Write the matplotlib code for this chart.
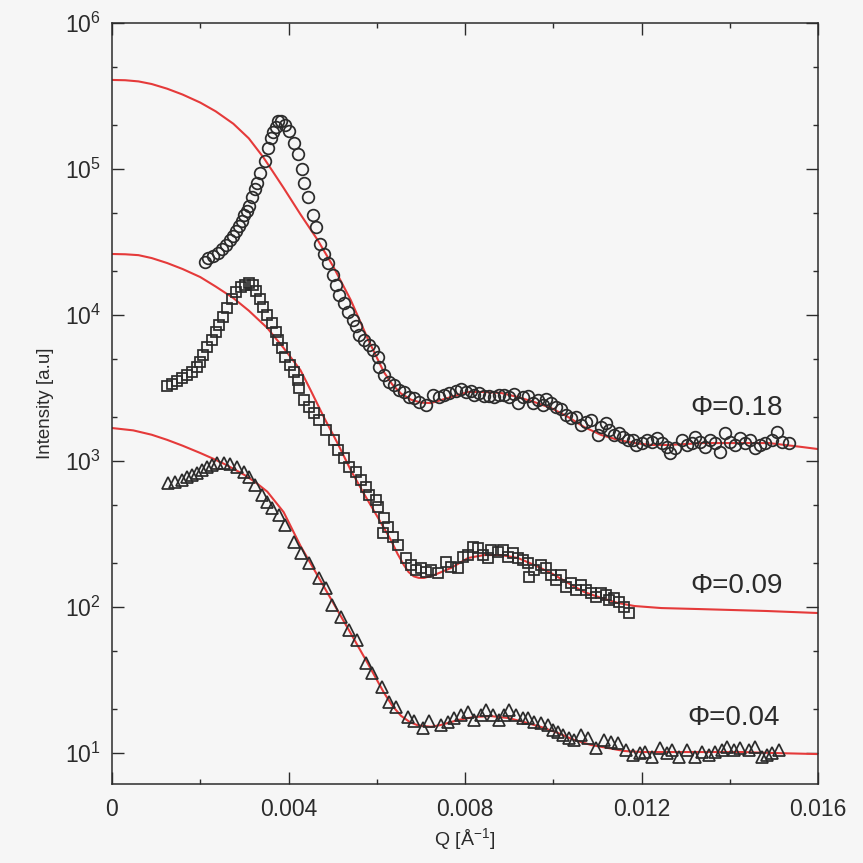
import numpy as np
import matplotlib
matplotlib.use("Agg")
import matplotlib.pyplot as plt
from matplotlib.ticker import LogLocator, MultipleLocator, FixedLocator, NullFormatter

plt.rcParams['font.family'] = ['Liberation Sans', 'DejaVu Sans']
plt.rcParams['mathtext.fontset'] = 'custom'
plt.rcParams['mathtext.rm'] = 'Liberation Sans'
plt.rcParams['mathtext.it'] = 'Liberation Sans'
plt.rcParams['mathtext.default'] = 'regular'

# ---- data: q in units of 1e-3 A^-1, intensity as log10 ----
c_q = [2.114,2.182,2.295,2.409,2.500,2.591,2.682,2.750,2.818,2.886,
       2.955,3.000,3.068,3.114,3.182,3.250,3.295,3.364,3.477,3.545,
       3.614,3.659,3.727,3.773,3.841,3.932,4.000,4.114,4.205,4.295,
       4.341,4.432,4.545,4.614,4.705,4.795,4.886,5.000,5.068,5.136,
       5.250,5.341,5.455,5.523,5.591,5.705,5.818,5.909,6.023,6.045,
       6.159,6.273,6.386,6.500,6.614,6.727,6.841,6.955,7.114,7.273,
       7.409,7.523,7.636,7.795,7.909,8.023,8.136,8.205,8.318,8.432,
       8.545,8.659,8.773,8.886,9.000,9.114,9.205,9.318,9.432,9.545,
       9.659,9.773,9.841,9.955,10.068,10.182,10.295,10.409,10.523,10.636,
       10.750,10.864,11.023,11.091,11.205,11.273,11.386,11.500,11.591,11.705,
       11.818,11.886,12.000,12.114,12.227,12.341,12.455,12.568,12.636,12.750,
       12.909,13.023,13.136,13.205,13.318,13.432,13.545,13.659,13.773,13.886,
       14.000,14.114,14.227,14.341,14.455,14.568,14.682,14.795,14.955,15.068,
       15.182,15.341]
c_logI = [4.363,4.390,4.404,4.425,4.452,4.479,4.514,4.541,4.575,4.610,
          4.644,4.685,4.712,4.747,4.808,4.863,4.904,4.973,5.055,5.144,
          5.212,5.253,5.288,5.329,5.329,5.301,5.260,5.178,5.103,5.000,
          4.904,4.808,4.685,4.603,4.486,4.418,4.356,4.274,4.205,4.137,
          4.082,4.021,3.966,3.925,3.863,3.829,3.795,3.760,3.712,3.644,
          3.589,3.541,3.521,3.486,3.473,3.438,3.432,3.404,3.384,3.452,
          3.438,3.452,3.466,3.479,3.493,3.473,3.479,3.452,3.466,3.445,
          3.445,3.438,3.452,3.452,3.438,3.459,3.397,3.438,3.445,3.397,
          3.418,3.384,3.425,3.397,3.370,3.356,3.315,3.295,3.301,3.247,
          3.267,3.281,3.178,3.233,3.260,3.212,3.178,3.192,3.164,3.144,
          3.144,3.110,3.123,3.144,3.130,3.158,3.123,3.096,3.055,3.089,
          3.144,3.110,3.123,3.164,3.130,3.096,3.144,3.123,3.062,3.192,
          3.130,3.110,3.158,3.123,3.144,3.089,3.110,3.123,3.144,3.199,
          3.130,3.123]

s_q = [1.250,1.364,1.477,1.591,1.705,1.818,1.932,2.000,2.068,2.159,
       2.273,2.364,2.432,2.523,2.614,2.727,2.818,2.932,3.023,3.114,
       3.205,3.273,3.364,3.432,3.523,3.636,3.727,3.773,3.864,3.932,
       4.023,4.114,4.205,4.227,4.341,4.455,4.568,4.682,4.841,5.023,
       5.114,5.250,5.364,5.523,5.636,5.750,5.818,5.977,6.023,6.159,
       6.250,6.136,6.364,6.477,6.659,6.773,6.886,7.000,7.114,7.227,
       7.386,7.568,7.682,7.841,7.955,8.068,8.182,8.295,8.409,8.523,
       8.591,8.750,8.864,8.977,9.091,9.205,9.318,9.432,9.455,9.568,
       9.727,9.841,9.955,10.068,10.182,10.295,10.409,10.523,10.636,10.750,
       10.864,10.977,11.091,11.205,11.273,11.386,11.500,11.614,11.727]
s_logI = [3.514,3.527,3.548,3.568,3.589,3.610,3.644,3.678,3.726,3.781,
          3.829,3.884,3.932,3.986,4.048,4.110,4.158,4.192,4.205,4.219,
          4.205,4.164,4.110,4.055,4.000,3.945,3.884,3.829,3.774,3.712,
          3.658,3.610,3.555,3.500,3.418,3.370,3.329,3.281,3.212,3.144,
          3.075,3.021,2.959,2.925,2.870,2.822,2.767,2.733,2.685,2.610,
          2.548,2.507,2.479,2.425,2.336,2.288,2.253,2.267,2.240,2.253,
          2.233,2.308,2.274,2.267,2.342,2.356,2.411,2.404,2.356,2.336,
          2.390,2.377,2.390,2.342,2.370,2.336,2.322,2.301,2.205,2.253,
          2.288,2.267,2.219,2.185,2.219,2.137,2.164,2.116,2.151,2.116,
          2.096,2.068,2.096,2.082,2.048,2.062,2.034,2.000,1.959]

t_q = [1.280,1.432,1.584,1.698,1.811,1.925,2.039,2.152,2.266,2.380,
       2.530,2.682,2.834,2.984,3.098,3.250,3.402,3.516,3.630,3.780,
       3.932,4.120,4.273,4.461,4.689,4.841,4.993,5.182,5.370,5.561,
       5.750,5.902,6.130,6.280,6.432,6.698,6.841,7.045,7.182,7.455,
       7.614,7.750,7.909,8.068,8.205,8.364,8.477,8.636,8.773,8.886,
       9.000,9.159,9.318,9.432,9.568,9.727,9.886,10.000,10.114,10.227,
       10.364,10.477,10.636,10.795,10.977,11.159,11.318,11.477,11.659,11.818,
       11.955,12.068,12.227,12.409,12.568,12.682,12.841,13.023,13.205,13.364,
       13.523,13.659,13.818,13.932,14.091,14.227,14.432,14.568,14.727,14.841,
       14.955,15.114]
t_logI = [2.847,2.858,2.870,2.888,2.904,2.916,2.938,2.957,2.973,2.984,
          2.984,2.979,2.961,2.927,2.892,2.836,2.767,2.721,2.676,2.630,
          2.562,2.447,2.368,2.299,2.197,2.128,2.014,1.934,1.842,1.774,
          1.614,1.546,1.454,1.351,1.317,1.249,1.219,1.171,1.219,1.192,
          1.212,1.240,1.260,1.281,1.226,1.260,1.295,1.260,1.226,1.260,
          1.295,1.260,1.240,1.240,1.212,1.205,1.192,1.158,1.144,1.123,
          1.103,1.089,1.123,1.103,1.034,1.089,1.075,1.068,1.021,0.986,
          1.000,1.007,0.973,1.034,1.000,1.021,0.973,1.021,0.973,1.007,
          0.986,1.007,1.021,1.041,1.021,1.034,1.021,1.041,0.973,0.986,
          1.000,1.021]

# fitted curves (red)
f18_q = [0,0.3,0.6,0.9,1.25,1.6,2.0,2.35,2.75,3.1,3.43,3.65,3.89,4.08,4.27,4.66,5.02,5.41,5.80,6.16,6.35,6.55,6.78,7.0,
         7.23,7.68,8.07,8.43,8.82,9.2,9.57,9.95,10.34,10.7,11.09,11.48,11.84,12.23,12.61,
         12.98,13.36,13.75,14.11,14.5,14.89,15.25,15.64,16.0]
f18_logI = [5.610,5.608,5.600,5.582,5.550,5.510,5.455,5.395,5.310,5.210,5.080,4.980,4.870,4.780,4.690,4.514,4.329,4.103,3.835,3.610,3.525,3.462,3.420,3.400,
            3.397,3.438,3.473,3.473,3.466,3.438,3.404,3.363,3.301,3.233,3.178,3.144,3.123,3.110,3.110,
            3.116,3.123,3.123,3.123,3.123,3.123,3.110,3.096,3.082]
f09_q = [0,0.3,0.6,0.9,1.25,1.6,2.0,2.35,2.75,3.1,3.52,3.89,4.27,4.5,4.8,5.11,5.41,5.7,6.02,6.32,6.47,6.61,6.72,6.84,6.95,7.07,7.3,7.68,
         8.07,8.43,8.82,9.2,9.57,9.95,10.34,10.7,11.09,11.48,11.84,12.45,13.32,14.82,16.0]
f09_logI = [4.418,4.416,4.410,4.390,4.356,4.315,4.260,4.195,4.116,4.030,3.911,3.774,3.623,3.486,3.301,3.123,2.938,2.781,2.616,2.459,2.365,2.290,2.240,2.210,2.200,2.199,2.219,2.267,
            2.336,2.356,2.356,2.336,2.288,2.233,2.164,2.103,2.062,2.027,2.007,1.993,1.986,1.973,1.959]
f04_q = [0,0.48,0.9,1.25,1.6,2.0,2.3,2.6,3.0,3.25,3.52,3.89,4.27,4.66,5.02,5.41,5.8,6.16,6.35,6.55,6.75,6.93,7.23,7.45,7.84,8.2,
         8.59,8.98,9.34,9.73,10.11,10.48,10.86,11.25,11.61,12.0,12.75,13.52,14.27,15.02,16.0]
f04_logI = [3.226,3.210,3.180,3.145,3.105,3.055,3.015,2.972,2.905,2.855,2.790,2.650,2.420,2.215,2.025,1.820,1.612,1.415,1.325,1.255,1.212,1.190,1.180,1.192,1.226,1.247,
            1.253,1.240,1.212,1.178,1.137,1.089,1.055,1.034,1.014,1.007,1.007,1.007,1.007,1.000,0.993]

labels = ["Φ=0.18", "Φ=0.09", "Φ=0.04"]
label_q = [13.1, 13.1, 13.05]
label_logI = [3.36, 2.145, 1.24]

def q(a):
    return np.asarray(a) * 1e-3

def I(a):
    return 10.0 ** np.asarray(a)

bg = '#f6f6f6'
ink = '#2b2b2b'
red = '#e53a3a'

fig = plt.figure(figsize=(8.63, 8.63), dpi=100, facecolor=bg)
ax = fig.add_axes([112/863, 1-784/863, (818-112)/863, (784-23)/863])
ax.set_facecolor(bg)

for fq, fl in [(f18_q, f18_logI), (f09_q, f09_logI), (f04_q, f04_logI)]:
    ax.plot(q(fq), I(fl), color=red, lw=1.5, zorder=2, solid_joinstyle='round')

mk = dict(linestyle='none', markerfacecolor='none', markeredgecolor=ink, markeredgewidth=1.25, zorder=3)
ax.plot(q(c_q), I(c_logI), marker='o', markersize=8.4, **mk)
ax.plot(q(s_q), I(s_logI), marker='s', markersize=7.8, **mk)
ax.plot(q(t_q), I(t_logI), marker='^', markersize=8.8, **mk)

for lab, lq, ly in zip(labels, label_q, label_logI):
    ax.text(lq*1e-3, 10**ly, lab, fontsize=20, color=ink, ha='left', va='center')

ax.set_yscale('log')
ax.set_xlim(0, 0.016)
ax.set_ylim(10**0.788, 1e6)

ax.xaxis.set_major_locator(FixedLocator([0, 0.004, 0.008, 0.012, 0.016]))
ax.xaxis.set_minor_locator(MultipleLocator(0.002))
ax.set_xticklabels(["0", "0.004", "0.008", "0.012", "0.016"])
ax.yaxis.set_major_locator(LogLocator(base=10, numticks=20))
ax.yaxis.set_minor_locator(LogLocator(base=10, subs=[2, 5], numticks=20))
ax.yaxis.set_minor_formatter(NullFormatter())

ax.tick_params(which='both', direction='in', top=True, right=True, colors=ink, width=1.0)
ax.tick_params(which='major', length=8.5)
ax.tick_params(which='minor', length=3.8)
ax.tick_params(axis='x', which='major', labelsize=16.5, pad=10)
ax.tick_params(axis='y', which='major', labelsize=16.5, pad=8)

for sp in ax.spines.values():
    sp.set_color(ink)
    sp.set_linewidth(1.1)

ax.set_xlabel("Q [Å$^{-1}$]", fontsize=14, color=ink, labelpad=4)
ax.set_ylabel("Intensity [a.u]", fontsize=13.5, color=ink, labelpad=8)

fig.savefig("out.png", dpi=100, facecolor=bg)
